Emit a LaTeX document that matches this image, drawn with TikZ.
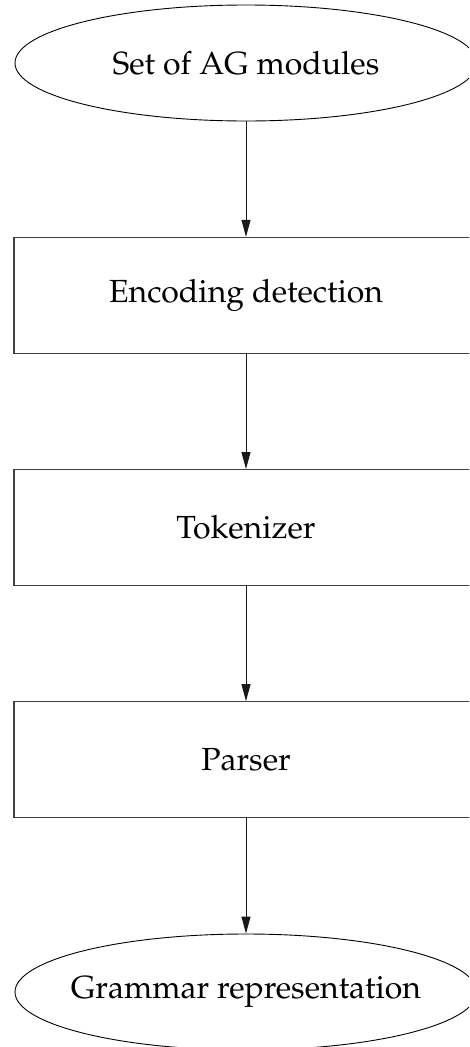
\documentclass[tikz,border=0pt]{standalone}
\usepackage[T1]{fontenc}
\usepackage{mathpazo}
\usetikzlibrary{shapes.geometric,arrows.meta}

\tikzset{
  terminal/.style={ellipse, draw=black, line width=0.9pt, minimum width=462pt,
    minimum height=116pt, inner xsep=-80pt, inner ysep=0pt,
    font=\fontsize{32}{38}\selectfont},
  stage/.style={rectangle, draw=black!75, line width=1.3pt, minimum width=464pt,
    minimum height=116pt, inner sep=0pt, font=\fontsize{32}{38}\selectfont},
  flow/.style={draw=black!90, line width=1pt,
    -{Triangle[length=17pt,width=9pt]}}
}

\begin{document}
\begin{tikzpicture}[x=1pt,y=-1pt]
  \useasboundingbox (0,0) rectangle (469,1047);
  \clip (0,0) rectangle (469,1047);

  \node[terminal] (src) at (246,63) {Set of AG modules};
  \node[stage] (enc) at (246,295.5) {Encoding detection};
  \node[stage] (tok) at (246,527.7) {Tokenizer};
  \node[stage] (par) at (246,759.8) {Parser};
  \node[terminal] (out) at (246,992) {Grammar representation};

  \draw[flow] (src) -- (enc);
  \draw[flow] (enc) -- (tok);
  \draw[flow] (tok) -- (par);
  \draw[flow] (par) -- (out);
\end{tikzpicture}
\end{document}
